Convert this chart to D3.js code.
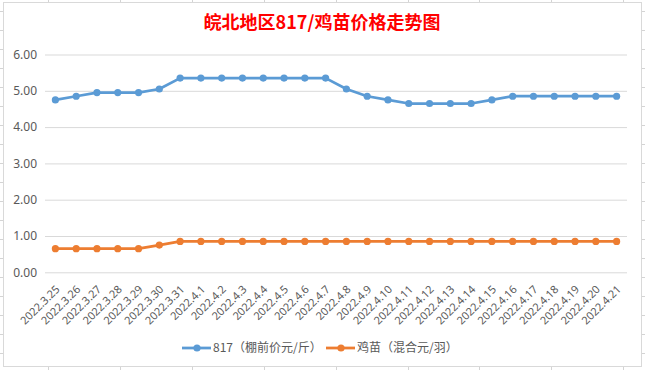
<!DOCTYPE html>
<html>
<head>
<meta charset="utf-8">
<script src="https://cdn.jsdelivr.net/npm/d3@7"></script>
<style>
  html, body { margin: 0; padding: 0; background: #fff; }
  svg { display: block; font-family: "Noto Sans CJK SC", "Noto Sans", sans-serif; }
</style>
</head>
<body>
<svg id="chart" width="645" height="370"></svg>
<script>
// dates along the x axis
var dates = ['2022.3.25', '2022.3.26', '2022.3.27', '2022.3.28', '2022.3.29', '2022.3.30', '2022.3.31',
    '2022.4.1', '2022.4.2', '2022.4.3', '2022.4.4', '2022.4.5', '2022.4.6', '2022.4.7', '2022.4.8',
    '2022.4.9', '2022.4.10', '2022.4.11', '2022.4.12', '2022.4.13', '2022.4.14', '2022.4.15',
    '2022.4.16', '2022.4.17', '2022.4.18', '2022.4.19', '2022.4.20', '2022.4.21'];

// 817 price (yuan / jin)
var price817 = [4.75, 4.85, 4.95, 4.95, 4.95, 5.05, 5.35, 5.35, 5.35, 5.35, 5.35, 5.35, 5.35, 5.35,
    5.05, 4.85, 4.75, 4.65, 4.65, 4.65, 4.65, 4.75, 4.85, 4.85, 4.85, 4.85, 4.85, 4.85];

// chick price (yuan / each)
var chick = [0.65, 0.65, 0.65, 0.65, 0.65, 0.75, 0.85, 0.85, 0.85, 0.85, 0.85, 0.85, 0.85, 0.85,
    0.85, 0.85, 0.85, 0.85, 0.85, 0.85, 0.85, 0.85, 0.85, 0.85, 0.85, 0.85, 0.85, 0.85];

var yTicks = [0, 1, 2, 3, 4, 5, 6];
var seriesNames = ['817（棚前价元/斤）', '鸡苗（混合元/羽）'];
var colors = ['#5b9bd5', '#ed7d31'];

var svg = d3.select('#chart');

/**
 * spreadsheet cells behind the chart
 */
var sheet = svg.append('g').attr('stroke', '#d4d4d4').attr('stroke-width', 1);
d3.range(48, 645, 71.9).forEach(function (x) {
    sheet.append('line').attr('x1', Math.round(x) + 0.5).attr('x2', Math.round(x) + 0.5).attr('y1', 0).attr('y2', 370);
});
d3.range(11, 370, 19).forEach(function (y) {
    sheet.append('line').attr('y1', y + 0.5).attr('y2', y + 0.5).attr('x1', 0).attr('x2', 645);
});

svg.append('rect')
    .attr('x', 3.5).attr('y', 2.5).attr('width', 638).attr('height', 364)
    .attr('fill', '#fff').attr('stroke', '#d9d9d9');

// title
svg.append('text')
    .attr('x', 322).attr('y', 29)
    .attr('text-anchor', 'middle')
    .attr('fill', '#ff0000')
    .style('font-size', '18px').style('font-weight', 'bold')
    .text('皖北地区817/鸡苗价格走势图');

var x = d3.scaleBand().domain(dates).range([45, 627]),
    y = d3.scaleLinear().domain([0, 6]).range([272.3, 54.5]);

function cx(d) { return x(d) + x.bandwidth() / 2; }

// horizontal gridlines
var yAxis = svg.append('g')
    .attr('transform', 'translate(45,0)')
    .call(d3.axisLeft(y).tickValues(yTicks).tickFormat(d3.format('.2f')).tickSize(-582).tickPadding(8));
yAxis.select('.domain').remove();
yAxis.selectAll('.tick line').attr('stroke', '#d9d9d9');
yAxis.selectAll('.tick text').attr('fill', '#595959').style('font-size', '12px')
    .style('font-family', '"Noto Sans", sans-serif');

// rotated date labels
svg.append('g').selectAll('text').data(dates).enter().append('text')
    .attr('transform', function (d) { return 'translate(' + (cx(d) + 5) + ',290) rotate(-45)'; })
    .attr('text-anchor', 'end')
    .attr('fill', '#595959')
    .style('font-size', '11px')
    .style('font-family', '"Noto Sans", sans-serif')
    .text(function (d) { return d; });

// the two series
[price817, chick].forEach(function (values, i) {
    var pts = values.map(function (v, j) { return [cx(dates[j]), y(v)]; });
    svg.append('path')
        .attr('d', d3.line()(pts))
        .attr('fill', 'none')
        .attr('stroke', colors[i])
        .attr('stroke-width', 2.75)
        .attr('stroke-linejoin', 'round');
    svg.append('g').selectAll('circle').data(pts).enter().append('circle')
        .attr('cx', function (p) { return p[0]; })
        .attr('cy', function (p) { return p[1]; })
        .attr('r', 3.6)
        .attr('fill', colors[i]);
});

// legend
var legendX = [182, 326];
seriesNames.forEach(function (name, i) {
    var g = svg.append('g').attr('transform', 'translate(' + legendX[i] + ',348)');
    g.append('line').attr('x1', 0).attr('x2', 29).attr('stroke', colors[i]).attr('stroke-width', 2.75);
    g.append('circle').attr('cx', 15).attr('r', 3.6).attr('fill', colors[i]);
    g.append('text').attr('x', 31).attr('dy', '0.35em')
        .attr('fill', '#595959').style('font-size', '12px')
        .text(name);
});
</script>
</body>
</html>
